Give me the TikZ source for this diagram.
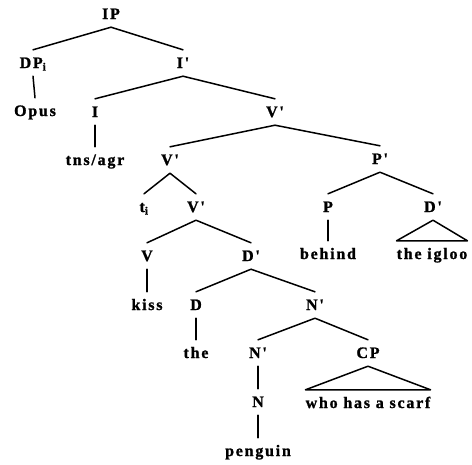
\documentclass[tikz,border=0pt]{standalone}
\usepackage{fontspec}
\newfontfamily\treefont{Liberation Serif}[LetterSpace=11, BoldFeatures={FakeBold=1.2}]
\begin{document}
\begin{tikzpicture}[x=1pt,y=-1pt,
  t/.style={anchor=base, font=\treefont\bfseries\fontsize{16}{18}\selectfont,
    text height=10pt, text depth=0pt, inner ysep=8pt, inner xsep=0pt},
  br/.style={line width=1.5pt, line cap=round, line join=round}]
\useasboundingbox (0,0) rectangle (472,464);
% level 0
\node[t] (IP) at (111,19) {IP};
% level 1
\node[t] (DP) at (33,68) {DP\textsubscript{i}};
\node[t] (I1) at (183,68) {I'};
% level 2
\node[t] (Opus) at (35,116) {Opus};
\node[t] (I) at (95,117) {I};
\node[t] (V2) at (275,117) {V'};
% level 3
\node[t] (tns) at (95,165) {tns/agr};
\node[t] (V3) at (170,165) {V'};
\node[t] (P1) at (380,164) {P'};
% level 4
\node[t] (ti) at (144,212) {t\textsubscript{i}};
\node[t] (V4) at (196,212) {V'};
\node[t] (P) at (328,212) {P};
\node[t] (D2) at (433,212) {D'};
% level 5
\node[t] (V) at (147,261) {V};
\node[t] (D1) at (251,261) {D'};
\node[t] (behind) at (328,259) {behind};
\node[t] (igloo) at (432,259) {the igloo};
% level 6
\node[t] (kiss) at (147,310) {kiss};
\node[t] (D) at (196,310) {D};
\node[t] (N1) at (315,310) {N'};
% level 7
\node[t] (the) at (196,358) {the};
\node[t] (N2) at (258,358) {N'};
\node[t] (CP) at (368,358) {CP};
% level 8
\node[t] (N) at (258,407) {N};
\node[t] (who) at (368,408) {who has a scarf};
% level 9
\node[t] (penguin) at (258,456) {penguin};
% branches
\draw[br] (DP.north) -- (IP.south) -- (I1.north);
\draw[br] (DP.south) -- (Opus.north);
\draw[br] (I.north) -- (I1.south) -- (V2.north);
\draw[br] (I.south) -- (tns.north);
\draw[br] (V3.north) -- (V2.south) -- (P1.north);
\draw[br] (ti.north) -- (V3.south) -- (V4.north);
\draw[br] (V.north) -- (V4.south) -- (D1.north);
\draw[br] (V.south) -- (kiss.north);
\draw[br] (D.north) -- (D1.south) -- (N1.north);
\draw[br] (D.south) -- (the.north);
\draw[br] (N2.north) -- (N1.south) -- (CP.north);
\draw[br] (N2.south) -- (N.north);
\draw[br] (N.south) -- (penguin.north);
\draw[br] (CP.south) -- (who.north west) -- (who.north east) -- cycle;
\draw[br] (P.north) -- (P1.south) -- (D2.north);
\draw[br] (P.south) -- (behind.north);
\draw[br] (D2.south) -- (igloo.north west) -- (igloo.north east) -- cycle;
\end{tikzpicture}
\end{document}
